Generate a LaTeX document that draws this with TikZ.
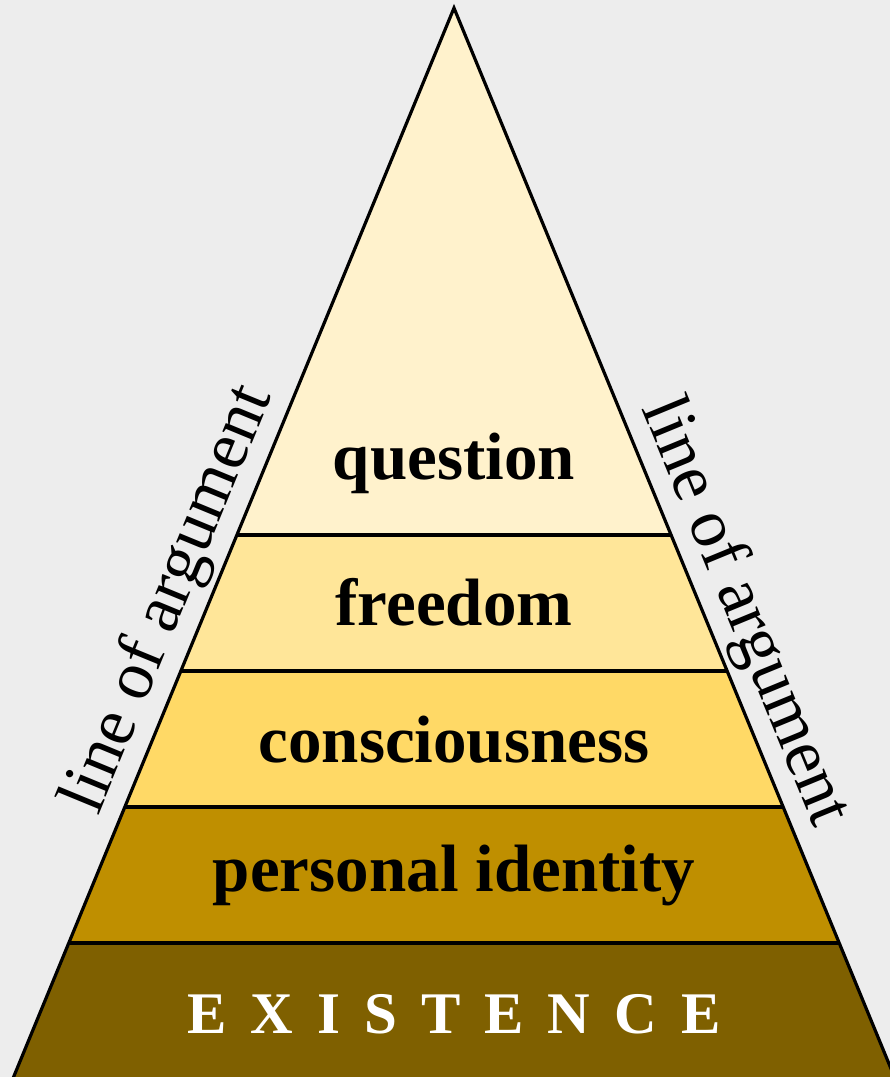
\documentclass[tikz,border=0pt]{standalone}
\usepackage{fontspec}
\setmainfont{Liberation Serif}
\usetikzlibrary{calc}
\definecolor{bg}{HTML}{EDEDED}
\definecolor{c1}{HTML}{FFF2CC}
\definecolor{c2}{HTML}{FFE699}
\definecolor{c3}{HTML}{FFD966}
\definecolor{c4}{HTML}{BF8F00}
\definecolor{c5}{HTML}{7F6000}
\newcommand\lsp{\kern24pt}
\begin{document}
\begin{tikzpicture}[x=1pt,y=-1pt,
  edge/.style={draw=black, line width=3.2pt, line join=miter},
  lbl/.style={font=\fontsize{67}{67}\selectfont\bfseries, anchor=base, inner sep=0pt},
  exist/.style={font=\fontsize{59}{59}\selectfont\bfseries, text=white, anchor=base, inner sep=0pt},
  side/.style={font=\fontsize{69}{69}\selectfont, anchor=base, inner sep=0pt}]
\useasboundingbox (0,0) rectangle (890,1077);
\fill[bg] (0,0) rectangle (890,1077);
\clip (0,0) rectangle (890,1077);
\coordinate (A) at (454,8);
\coordinate (L1) at (236.9,535); \coordinate (R1) at (671.1,535);
\coordinate (L2) at (180.8,671); \coordinate (R2) at (727.2,671);
\coordinate (L3) at (124.8,807); \coordinate (R3) at (783.2,807);
\coordinate (L4) at (68.8,943);  \coordinate (R4) at (839.2,943);
\coordinate (L5) at (13.6,1077); \coordinate (R5) at (894.4,1077);
\coordinate (L6) at (4.1,1100);  \coordinate (R6) at (903.9,1100);
% bands
\fill[c1] (A) -- (R1) -- (L1) -- cycle;
\fill[c2] (L1) -- (R1) -- (R2) -- (L2) -- cycle;
\fill[c3] (L2) -- (R2) -- (R3) -- (L3) -- cycle;
\fill[c4] (L3) -- (R3) -- (R4) -- (L4) -- cycle;
\fill[c5] (L4) -- (R4) -- (R6) -- (L6) -- cycle;
% lines
\draw[edge] (L1) -- (R1);
\draw[edge] (L2) -- (R2);
\draw[edge] (L3) -- (R3);
\draw[edge] (L4) -- (R4);
\draw[edge] (L6) -- (A) -- (R6);
% labels
\node[lbl] (q) at (454,479) {question};
\node[lbl] (f) at (454,625) {freedom};
\node[lbl] (c) at (454,762) {consciousness};
\node[lbl] (p) at (454,891) {personal identity};
\node[exist] (e) at (454,1033) {E\lsp X\lsp I\lsp S\lsp T\lsp E\lsp N\lsp C\lsp E};
% side labels
\coordinate (PL) at ($(A)!0.567!(L5)$);
\coordinate (PR) at ($(A)!0.579!(R5)$);
\node[side, rotate=67.63] (la) at ($(PL)!21pt!90:(A)$) {line of argument};
\node[side, rotate=-67.63] (ra) at ($(PR)!21pt!-90:(A)$) {line of argument};
\end{tikzpicture}
\end{document}
